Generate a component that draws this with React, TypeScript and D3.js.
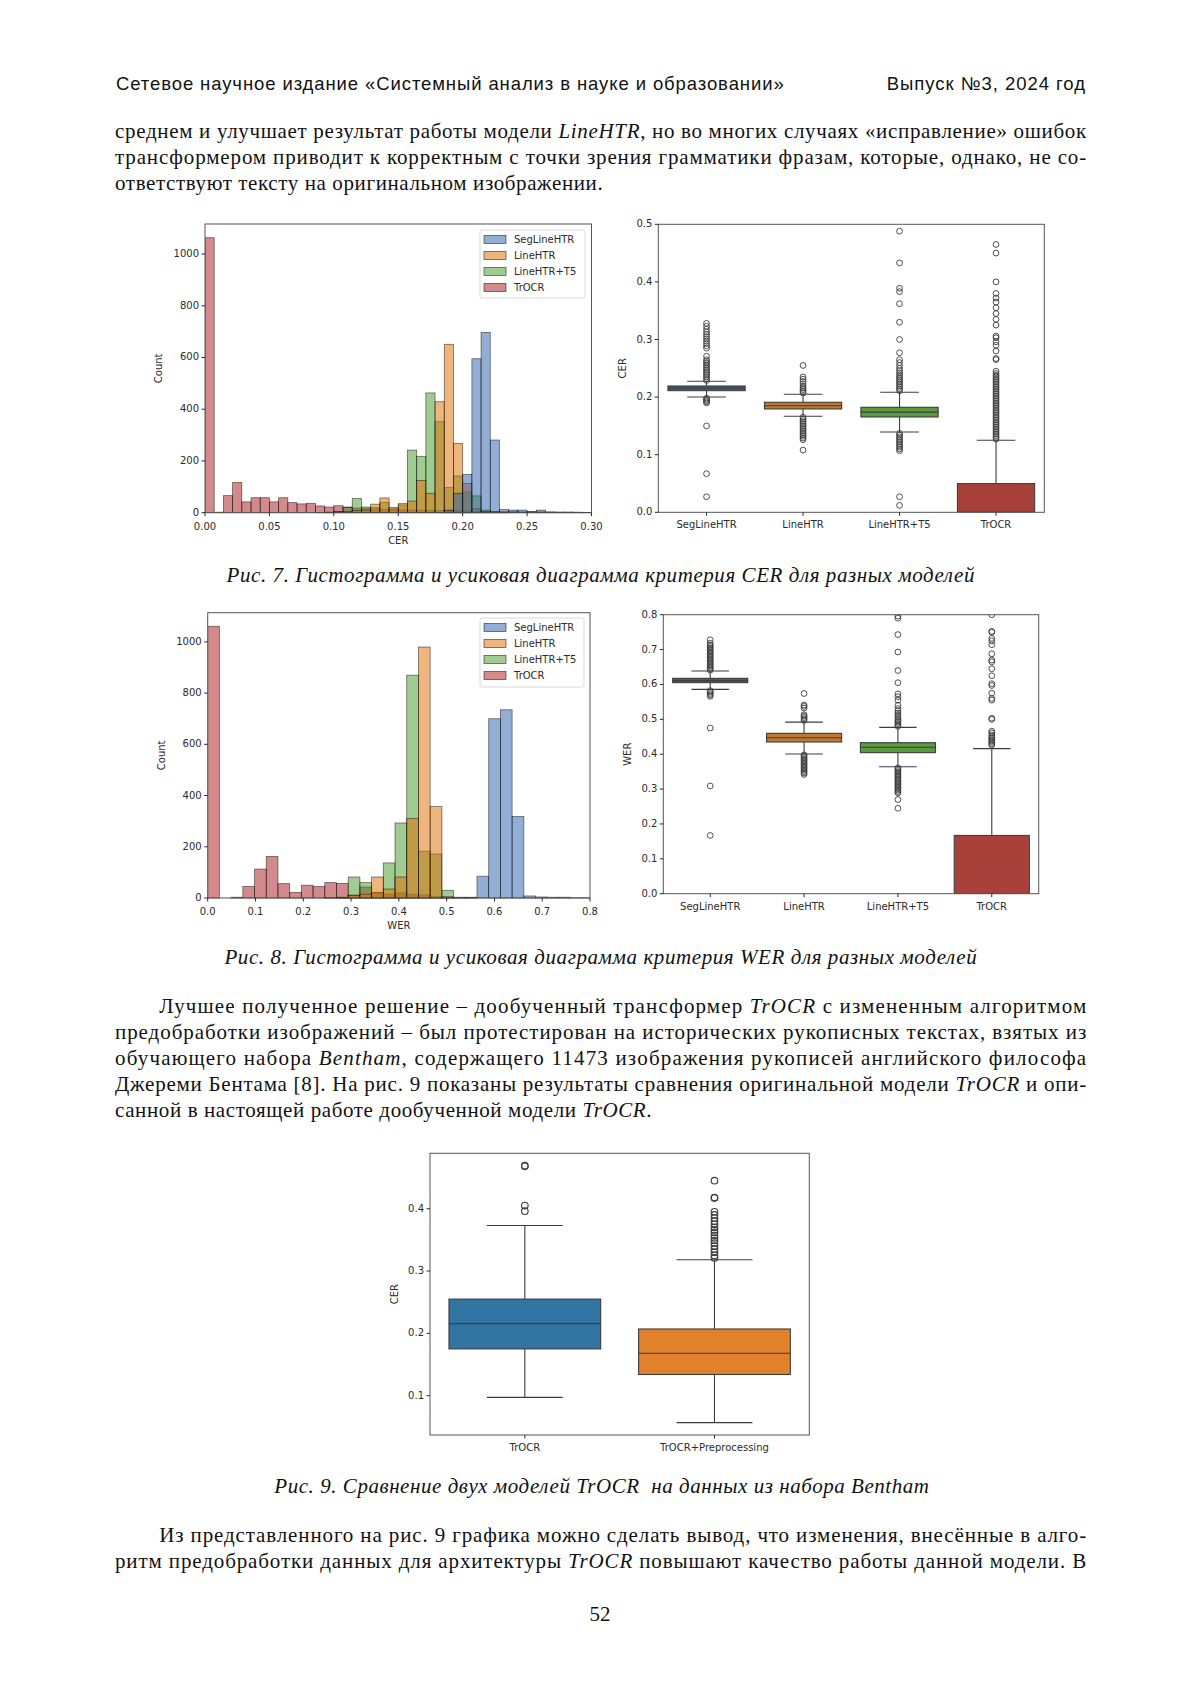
import React from 'react';
import * as d3 from 'd3';

// ---- page ----
const W = 1200;
const H = 1697;

// ---- shared series ----
const MODELS = ['SegLineHTR', 'LineHTR', 'LineHTR+T5', 'TrOCR'];
const HIST_COLORS = ['#275da9', '#df6b00', '#419925', '#a51519'];
const BOX_COLORS = ['#3b5a86', '#bf7a30', '#5a9a40', '#a8413a'];

// ---- Fig 7, CER histogram (42 bins of 0.3/42 on [0, 0.3]) ----
const CER_BIN = 0.3 / 42;
const CER_HIST_SEG = [0, 0, 0, 0, 0, 0, 0, 0, 0, 0, 0, 0, 0, 0, 0, 0, 0, 0, 0, 0, 0, 0, 0, 0, 0, 0, 10, 75, 148, 595, 697, 281, 12, 10, 10, 5, 10, 3, 2, 2, 1, 1];
const CER_HIST_LINE = [0, 0, 0, 0, 0, 0, 0, 0, 0, 0, 0, 0, 0, 1, 3, 5, 8, 10, 33, 57, 20, 35, 45, 125, 75, 429, 651, 268, 113, 15, 5, 2, 1, 0, 0, 0, 0, 0, 0, 0, 0, 0];
const CER_HIST_T5 = [0, 0, 0, 0, 0, 0, 0, 0, 0, 0, 0, 0, 1, 2, 5, 20, 55, 22, 20, 40, 15, 30, 242, 218, 463, 352, 97, 142, 80, 65, 10, 3, 1, 0, 0, 0, 0, 0, 0, 0, 0, 0];
const CER_HIST_TROCR = [1063, 2, 66, 117, 42, 58, 58, 42, 58, 39, 34, 36, 26, 22, 27, 22, 18, 16, 14, 13, 12, 11, 10, 10, 9, 8, 8, 7, 6, 6, 5, 5, 4, 4, 3, 3, 3, 2, 2, 2, 2, 1];
const CER_X_TICKS = [0, 0.05, 0.1, 0.15, 0.2, 0.25, 0.3];
const COUNT_TICKS = [0, 200, 400, 600, 800, 1000];

// ---- Fig 8, WER histogram ----
const WER_BIN = 0.0245;
const WER_HIST_SEG = [0, 0, 0, 0, 0, 0, 0, 0, 0, 0, 0, 0, 0, 0, 0, 0, 0, 0, 0, 0, 0, 0, 3, 85, 700, 735, 318, 8, 4, 3, 3, 1, 1];
const WER_HIST_LINE = [0, 0, 0, 0, 0, 0, 0, 0, 0, 0, 0, 2, 10, 15, 82, 35, 82, 310, 980, 357, 5, 1, 0, 0, 0, 0, 0, 0, 0, 0, 0, 0, 0];
const WER_HIST_T5 = [0, 0, 0, 0, 0, 0, 0, 0, 0, 0, 1, 3, 82, 60, 20, 137, 293, 870, 183, 172, 30, 3, 1, 0, 0, 0, 0, 0, 0, 0, 0, 0, 0];
const WER_HIST_TROCR = [1061, 0, 3, 45, 113, 162, 56, 22, 50, 45, 60, 57, 12, 43, 22, 15, 20, 15, 12, 5, 2, 0, 0, 0, 0, 0, 0, 0, 0, 0, 0, 0, 0];
const WER_X_TICKS = [0, 0.1, 0.2, 0.3, 0.4, 0.5, 0.6, 0.7, 0.8];

// ---- Fig 7, CER boxplot ----
const CER_Q1 = [0.2112, 0.1794, 0.1655, 0];
const CER_MED = [0.2153, 0.185, 0.174, 0];
const CER_Q3 = [0.2193, 0.191, 0.1823, 0.0498];
const CER_LO = [0.2002, 0.1667, 0.1395, 0];
const CER_HI = [0.2274, 0.2049, 0.2083, 0.125];
const CER_OUT_SEG = [0.229, 0.232, 0.235, 0.238, 0.241, 0.244, 0.247, 0.25, 0.253, 0.256, 0.259, 0.262, 0.265, 0.271, 0.285, 0.289, 0.293, 0.297, 0.301, 0.305, 0.309, 0.313, 0.318, 0.323, 0.328, 0.198, 0.196, 0.194, 0.192, 0.19, 0.15, 0.067, 0.027];
const CER_OUT_LINE = [0.207, 0.21, 0.213, 0.216, 0.219, 0.223, 0.227, 0.231, 0.235, 0.255, 0.165, 0.162, 0.159, 0.156, 0.153, 0.15, 0.147, 0.144, 0.141, 0.138, 0.135, 0.132, 0.129, 0.126, 0.108];
const CER_OUT_T5 = [0.211, 0.214, 0.217, 0.22, 0.223, 0.226, 0.229, 0.232, 0.235, 0.238, 0.242, 0.246, 0.25, 0.255, 0.26, 0.265, 0.277, 0.3, 0.33, 0.362, 0.383, 0.389, 0.433, 0.488, 0.137, 0.134, 0.131, 0.128, 0.125, 0.122, 0.119, 0.116, 0.113, 0.11, 0.107, 0.027, 0.012];
const CER_OUT_TROCR = [0.127, 0.13, 0.133, 0.136, 0.139, 0.142, 0.145, 0.148, 0.151, 0.154, 0.157, 0.16, 0.163, 0.166, 0.169, 0.172, 0.175, 0.178, 0.181, 0.184, 0.187, 0.19, 0.193, 0.196, 0.199, 0.202, 0.205, 0.208, 0.211, 0.214, 0.217, 0.22, 0.223, 0.226, 0.229, 0.232, 0.235, 0.238, 0.241, 0.245, 0.265, 0.267, 0.28, 0.29, 0.296, 0.303, 0.306, 0.325, 0.335, 0.345, 0.355, 0.365, 0.372, 0.38, 0.4, 0.45, 0.465];
const CER_Y_TICKS = [0, 0.1, 0.2, 0.3, 0.4, 0.5];

// ---- Fig 8, WER boxplot ----
const WER_Q1 = [0.6052, 0.435, 0.4044, 0];
const WER_MED = [0.611, 0.447, 0.42, 0];
const WER_Q3 = [0.6176, 0.4598, 0.433, 0.167];
const WER_LO = [0.586, 0.4006, 0.364, 0];
const WER_HI = [0.6386, 0.492, 0.477, 0.416];
const WER_OUT_SEG = [0.641, 0.645, 0.649, 0.653, 0.657, 0.661, 0.665, 0.669, 0.673, 0.677, 0.681, 0.685, 0.689, 0.693, 0.697, 0.701, 0.705, 0.709, 0.713, 0.718, 0.728, 0.582, 0.578, 0.574, 0.57, 0.566, 0.475, 0.309, 0.167];
const WER_OUT_LINE = [0.497, 0.501, 0.505, 0.509, 0.513, 0.532, 0.537, 0.541, 0.574, 0.398, 0.394, 0.39, 0.386, 0.382, 0.378, 0.374, 0.37, 0.366, 0.362, 0.358, 0.354, 0.35, 0.346, 0.342];
const WER_OUT_T5 = [0.48, 0.484, 0.488, 0.492, 0.496, 0.5, 0.506, 0.512, 0.518, 0.524, 0.531, 0.54, 0.555, 0.565, 0.573, 0.605, 0.64, 0.693, 0.743, 0.79, 0.796, 0.361, 0.357, 0.353, 0.349, 0.345, 0.341, 0.337, 0.333, 0.329, 0.325, 0.321, 0.317, 0.313, 0.309, 0.305, 0.301, 0.297, 0.293, 0.289, 0.27, 0.245];
const WER_OUT_TROCR = [0.426, 0.43, 0.434, 0.438, 0.442, 0.446, 0.45, 0.455, 0.461, 0.466, 0.5, 0.503, 0.555, 0.56, 0.575, 0.597, 0.602, 0.625, 0.645, 0.665, 0.67, 0.688, 0.714, 0.725, 0.732, 0.75, 0.752, 0.8];
const WER_Y_TICKS = [0, 0.1, 0.2, 0.3, 0.4, 0.5, 0.6, 0.7, 0.8];

// ---- Fig 9, Bentham boxplot ----
const BEN_MODELS = ['TrOCR', 'TrOCR+Preprocessing'];
const BEN_COLORS = ['#3274a1', '#e1812c'];
const BEN_Q1 = [0.175, 0.134];
const BEN_MED = [0.2156, 0.168];
const BEN_Q3 = [0.255, 0.207];
const BEN_LO = [0.0973, 0.0567];
const BEN_HI = [0.373, 0.318];
const BEN_OUT_TROCR = [0.469, 0.468, 0.405, 0.396];
const BEN_OUT_PRE = [0.445, 0.418, 0.417, 0.395, 0.39, 0.385, 0.38, 0.375, 0.37, 0.366, 0.362, 0.357, 0.353, 0.349, 0.345, 0.34, 0.335, 0.33, 0.325, 0.321];
const BEN_Y_TICKS = [0.1, 0.2, 0.3, 0.4];

// ---- page text ('_' toggles italics) ----
const HEADER_LEFT = 'Сетевое научное издание «Системный анализ в науке и образовании»';
const HEADER_RIGHT = 'Выпуск №3, 2024 год';
const PARA1 = [
  'среднем и улучшает результат работы модели _LineHTR_, но во многих случаях «исправление» ошибок',
  'трансформером приводит к корректным с точки зрения грамматики фразам, которые, однако, не со-',
  'ответствуют тексту на оригинальном изображении.',
];
const CAPTION7 = 'Рис. 7. Гистограмма и усиковая диаграмма критерия CER для разных моделей';
const CAPTION8 = 'Рис. 8. Гистограмма и усиковая диаграмма критерия WER для разных моделей';
const PARA2 = [
  'Лучшее полученное решение – дообученный трансформер _TrOCR_ с измененным алгоритмом',
  'предобработки изображений – был протестирован на исторических рукописных текстах, взятых из',
  'обучающего набора _Bentham_, содержащего 11473 изображения рукописей английского философа',
  'Джереми Бентама [8]. На рис. 9 показаны результаты сравнения оригинальной модели _TrOCR_ и опи-',
  'санной в настоящей работе дообученной модели _TrOCR_.',
];
const CAPTION9 = 'Рис. 9. Сравнение двух моделей TrOCR\u00a0 на данных из набора Bentham';
const PARA3 = [
  'Из представленного на рис. 9 графика можно сделать вывод, что изменения, внесённые в алго-',
  'ритм предобработки данных для архитектуры _TrOCR_ повышают качество работы данной модели. В',
];
const PAGE_NO = '52';

const SERIF = '"Liberation Serif", "Times New Roman", serif';
const SANS = '"Liberation Sans", Arial, sans-serif';
const PLOT_FONT = '"DejaVu Sans", sans-serif';
const INK = '#2b2b2b';
const SPINE = '#555';

type Frame = { x0: number; x1: number; y0: number; y1: number };

function TextLine({ s, x, y, len, size = 21, italic = false, font = SERIF }: {
  s: string; x: number; y: number; len?: number; size?: number; italic?: boolean; font?: string;
}) {
  const parts = s.split('_');
  return (
    <text
      x={x}
      y={y}
      fontFamily={font}
      fontSize={size}
      fill="#111"
      fontStyle={italic ? 'italic' : 'normal'}
      textLength={len}
      lengthAdjust={len ? 'spacing' : undefined}
    >
      {parts.map((p, k) => (
        <tspan key={k} fontStyle={italic || k % 2 === 1 ? 'italic' : 'normal'}>{p}</tspan>
      ))}
    </text>
  );
}

function Histogram({ id, frame, xMax, yMax, bin, counts, xTicks, xFmt, xLabel, legend }: {
  id: string; frame: Frame; xMax: number; yMax: number; bin: number; counts: number[][];
  xTicks: number[]; xFmt: (v: number) => string; xLabel: string;
  legend: { x: number; y: number; w: number; h: number };
}) {
  const x = d3.scaleLinear().domain([0, xMax]).range([frame.x0, frame.x1]);
  const y = d3.scaleLinear().domain([0, yMax]).range([frame.y1, frame.y0]);
  // seaborn draws hue levels in reverse order
  const order = [3, 2, 1, 0];
  return (
    <g>
      <defs>
        <clipPath id={id}>
          <rect x={frame.x0} y={frame.y0} width={frame.x1 - frame.x0} height={frame.y1 - frame.y0 + 1} />
        </clipPath>
      </defs>
      <g clipPath={`url(#${id})`}>
        {order.map(si =>
          counts[si].map((c, i) => {
            const a = x(i * bin);
            if (a >= frame.x1) return null;
            const b = x(Math.min((i + 1) * bin, xMax));
            return (
              <rect
                key={`${si}-${i}`}
                x={a}
                y={y(c)}
                width={b - a}
                height={y(0) - y(c)}
                fill={HIST_COLORS[si]}
                fillOpacity={0.5}
                stroke="#000"
                strokeOpacity={0.55}
                strokeWidth={0.8}
              />
            );
          })
        )}
      </g>
      <rect x={frame.x0} y={frame.y0} width={frame.x1 - frame.x0} height={frame.y1 - frame.y0}
        fill="none" stroke={SPINE} strokeWidth={1} />
      {xTicks.map(t => (
        <g key={t}>
          <line x1={x(t)} x2={x(t)} y1={frame.y1} y2={frame.y1 + 3.5} stroke={INK} />
          <text x={x(t)} y={frame.y1 + 14} fontFamily={PLOT_FONT} fontSize={10} fill={INK}
            textAnchor="middle" dominantBaseline="middle">{xFmt(t)}</text>
        </g>
      ))}
      {COUNT_TICKS.map(t => (
        <g key={t}>
          <line x1={frame.x0 - 3.5} x2={frame.x0} y1={y(t)} y2={y(t)} stroke={INK} />
          <text x={frame.x0 - 6} y={y(t)} fontFamily={PLOT_FONT} fontSize={10} fill={INK}
            textAnchor="end" dominantBaseline="middle">{t}</text>
        </g>
      ))}
      <text x={(frame.x0 + frame.x1) / 2} y={frame.y1 + 28} fontFamily={PLOT_FONT} fontSize={10}
        fill={INK} textAnchor="middle" dominantBaseline="middle">{xLabel}</text>
      <text transform={`translate(${frame.x0 - 46},${(frame.y0 + frame.y1) / 2}) rotate(-90)`}
        fontFamily={PLOT_FONT} fontSize={10} fill={INK} textAnchor="middle"
        dominantBaseline="middle">Count</text>
      <rect x={legend.x} y={legend.y} width={legend.w} height={legend.h} rx={2}
        fill="#fff" fillOpacity={0.8} stroke="#d0d0d0" strokeWidth={0.8} />
      {MODELS.map((m, i) => {
        const cy = legend.y + 9.5 + i * 16;
        return (
          <g key={m}>
            <rect x={legend.x + 4} y={cy - 4} width={22} height={8} fill={HIST_COLORS[i]}
              fillOpacity={0.5} stroke="#000" strokeOpacity={0.6} strokeWidth={0.8} />
            <text x={legend.x + 34} y={cy} fontFamily={PLOT_FONT} fontSize={10} fill={INK}
              dominantBaseline="middle">{m}</text>
          </g>
        );
      })}
    </g>
  );
}

function BoxPlot({ id, frame, cats, yDomain, yTicks, yLabel, q1, med, q3, lo, hi, outliers, colors, r = 2.9, ow = 0.9 }: {
  id: string; frame: Frame; cats: string[]; yDomain: [number, number]; yTicks: number[]; yLabel: string;
  q1: number[]; med: number[]; q3: number[]; lo: number[]; hi: number[]; outliers: number[][];
  colors: string[]; r?: number; ow?: number;
}) {
  const x = d3.scaleBand<string>().domain(cats).range([frame.x0, frame.x1]).padding(0);
  const y = d3.scaleLinear().domain(yDomain).range([frame.y1, frame.y0]);
  const bw = x.bandwidth() * 0.8;
  const line = '#3d3d3d';
  return (
    <g>
      <defs>
        <clipPath id={id}>
          <rect x={frame.x0} y={frame.y0} width={frame.x1 - frame.x0} height={frame.y1 - frame.y0} />
        </clipPath>
      </defs>
      <g clipPath={`url(#${id})`}>
        {cats.map((c, i) => {
          const cx = x(c)! + x.bandwidth() / 2;
          return (
            <g key={c}>
              <line x1={cx} x2={cx} y1={y(q3[i])} y2={y(hi[i])} stroke={line} strokeWidth={1.1} />
              <line x1={cx} x2={cx} y1={y(q1[i])} y2={y(lo[i])} stroke={line} strokeWidth={1.1} />
              <line x1={cx - bw / 4} x2={cx + bw / 4} y1={y(hi[i])} y2={y(hi[i])} stroke={line} strokeWidth={1.1} />
              <line x1={cx - bw / 4} x2={cx + bw / 4} y1={y(lo[i])} y2={y(lo[i])} stroke={line} strokeWidth={1.1} />
              <rect x={cx - bw / 2} y={y(q3[i])} width={bw} height={Math.max(y(q1[i]) - y(q3[i]), 0.5)}
                fill={colors[i]} stroke={line} strokeWidth={1.1} />
              <line x1={cx - bw / 2} x2={cx + bw / 2} y1={y(med[i])} y2={y(med[i])} stroke={line} strokeWidth={1.1} />
              {outliers[i].map((v, k) => (
                <circle key={k} cx={cx} cy={y(v)} r={r} fill="none" stroke={line} strokeWidth={ow} />
              ))}
            </g>
          );
        })}
      </g>
      <rect x={frame.x0} y={frame.y0} width={frame.x1 - frame.x0} height={frame.y1 - frame.y0}
        fill="none" stroke={SPINE} strokeWidth={1} />
      {yTicks.map(t => (
        <g key={t}>
          <line x1={frame.x0 - 3.5} x2={frame.x0} y1={y(t)} y2={y(t)} stroke={INK} />
          <text x={frame.x0 - 6} y={y(t)} fontFamily={PLOT_FONT} fontSize={10} fill={INK}
            textAnchor="end" dominantBaseline="middle">{t.toFixed(1)}</text>
        </g>
      ))}
      {cats.map(c => {
        const cx = x(c)! + x.bandwidth() / 2;
        return (
          <g key={c}>
            <line x1={cx} x2={cx} y1={frame.y1} y2={frame.y1 + 3.5} stroke={INK} />
            <text x={cx} y={frame.y1 + 13} fontFamily={PLOT_FONT} fontSize={10} fill={INK}
              textAnchor="middle" dominantBaseline="middle">{c}</text>
          </g>
        );
      })}
      <text transform={`translate(${frame.x0 - 35},${(frame.y0 + frame.y1) / 2}) rotate(-90)`}
        fontFamily={PLOT_FONT} fontSize={10} fill={INK} textAnchor="middle"
        dominantBaseline="middle">{yLabel}</text>
    </g>
  );
}

export default function App() {
  const paraX = 115;
  const paraR = 1086.2;
  const indentX = 159.3;
  return (
    <svg width={W} height={H} viewBox={`0 0 ${W} ${H}`}
      style={{ position: 'absolute', left: 0, top: 0, background: '#fff' }}>
      <rect width={W} height={H} fill="#fff" />

      <TextLine s={HEADER_LEFT} x={116} y={90} len={667.7} size={18.5} font={SANS} />
      <TextLine s={HEADER_RIGHT} x={886.7} y={90} len={198.3} size={18.5} font={SANS} />

      {PARA1.map((s, i) => (
        <TextLine key={i} s={s} x={paraX} y={138.2 + i * 26}
          len={i < 2 ? paraR - paraX : 602.7 - paraX} />
      ))}

      <Histogram
        id="clip-h1"
        frame={{ x0: 205, x1: 591.5, y0: 224, y1: 512.7 }}
        xMax={0.3}
        yMax={1116}
        bin={CER_BIN}
        counts={[CER_HIST_SEG, CER_HIST_LINE, CER_HIST_T5, CER_HIST_TROCR]}
        xTicks={CER_X_TICKS}
        xFmt={v => v.toFixed(2)}
        xLabel="CER"
        legend={{ x: 480, y: 230, w: 105, h: 68 }}
      />
      <BoxPlot
        id="clip-b1"
        frame={{ x0: 658.3, x1: 1044.3, y0: 224.3, y1: 512.3 }}
        cats={MODELS}
        yDomain={[0, 0.5]}
        yTicks={CER_Y_TICKS}
        yLabel="CER"
        q1={CER_Q1} med={CER_MED} q3={CER_Q3} lo={CER_LO} hi={CER_HI}
        outliers={[CER_OUT_SEG, CER_OUT_LINE, CER_OUT_T5, CER_OUT_TROCR]}
        colors={BOX_COLORS}
      />
      <TextLine s={CAPTION7} x={226.6} y={582} len={747.9} italic />

      <Histogram
        id="clip-h2"
        frame={{ x0: 207.7, x1: 590, y0: 612.7, y1: 898 }}
        xMax={0.8}
        yMax={1114}
        bin={WER_BIN}
        counts={[WER_HIST_SEG, WER_HIST_LINE, WER_HIST_T5, WER_HIST_TROCR]}
        xTicks={WER_X_TICKS}
        xFmt={v => v.toFixed(1)}
        xLabel="WER"
        legend={{ x: 480, y: 618, w: 104, h: 69 }}
      />
      <BoxPlot
        id="clip-b2"
        frame={{ x0: 663.3, x1: 1038.7, y0: 614.7, y1: 893.7 }}
        cats={MODELS}
        yDomain={[0, 0.8]}
        yTicks={WER_Y_TICKS}
        yLabel="WER"
        q1={WER_Q1} med={WER_MED} q3={WER_Q3} lo={WER_LO} hi={WER_HI}
        outliers={[WER_OUT_SEG, WER_OUT_LINE, WER_OUT_T5, WER_OUT_TROCR]}
        colors={BOX_COLORS}
      />
      <TextLine s={CAPTION8} x={224.4} y={964} len={752.3} italic />

      {PARA2.map((s, i) => (
        <TextLine key={i} s={s} x={i === 0 ? indentX : paraX} y={1013 + i * 25.9}
          len={i === 0 ? paraR - indentX : i < 4 ? paraR - paraX : 651.5 - paraX} />
      ))}

      <BoxPlot
        id="clip-b3"
        frame={{ x0: 430, x1: 809.3, y0: 1153.3, y1: 1435 }}
        cats={BEN_MODELS}
        yDomain={[0.0369, 0.4889]}
        yTicks={BEN_Y_TICKS}
        yLabel="CER"
        q1={BEN_Q1} med={BEN_MED} q3={BEN_Q3} lo={BEN_LO} hi={BEN_HI}
        outliers={[BEN_OUT_TROCR, BEN_OUT_PRE]}
        colors={BEN_COLORS}
        r={3.3}
        ow={1.1}
      />
      <TextLine s={CAPTION9} x={274.3} y={1493} len={654.7} italic />

      {PARA3.map((s, i) => (
        <TextLine key={i} s={s} x={i === 0 ? indentX : paraX} y={1542 + i * 26}
          len={i === 0 ? paraR - indentX : paraR - paraX} />
      ))}

      <text x={600} y={1620.7} fontFamily={SERIF} fontSize={21} fill="#111" textAnchor="middle">{PAGE_NO}</text>
    </svg>
  );
}
